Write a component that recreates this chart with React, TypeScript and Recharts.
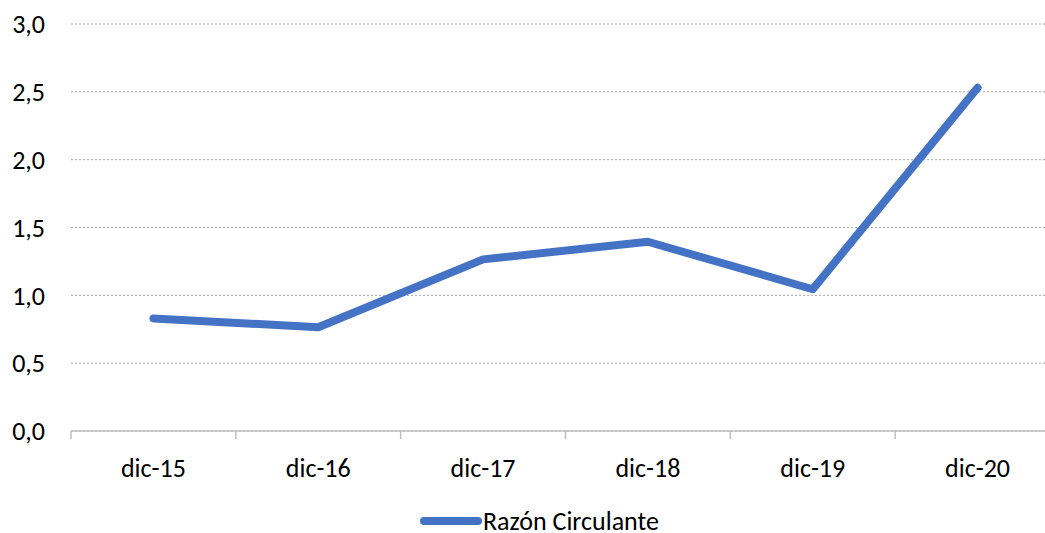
import React from 'react';
import { LineChart, Line, XAxis, YAxis, CartesianGrid, Legend } from 'recharts';

const categories = ['dic-15', 'dic-16', 'dic-17', 'dic-18', 'dic-19', 'dic-20'];
const razonCirculante = [0.83, 0.765, 1.265, 1.395, 1.045, 2.53];
const yTicks = [0, 0.5, 1, 1.5, 2, 2.5, 3];

// position index for each category, so the line sits in the middle of each band
const data = categories.map((month, i) => ({ idx: i, month, razon: razonCirculante[i] }));
const labelTicks = categories.map((_, i) => i);
const boundaryTicks = [-0.5, ...categories.map((_, i) => i + 0.5)];

const FONT = 'Carlito, Lato, sans-serif';
const BLUE = '#4472c4';

const LegendContent = () => (
    <div style={{ display: 'flex', alignItems: 'center', fontFamily: FONT, fontSize: 26, color: '#000', lineHeight: '34px', whiteSpace: 'nowrap' }}>
        <svg width={64} height={12}>
            <line x1={5} y1={6} x2={59} y2={6} stroke={BLUE} strokeWidth={8} strokeLinecap="round" />
        </svg>
        <span>Razón Circulante</span>
    </div>
);

const App: React.FC = () => {
    return (
        <div style={{ position: 'fixed', left: 0, top: 0, width: 1045, height: 533, overflow: 'hidden', background: '#fff' }}>
            <LineChart
                width={1075}
                height={533}
                data={data}
                margin={{ top: 24, right: 15, left: 0, bottom: 0 }}
            >
                <CartesianGrid xAxisId="a_marks" vertical={false} stroke="#a6a6a6" strokeDasharray="2 2" />
                {/* tick marks between categories */}
                <XAxis
                    xAxisId="a_marks"
                    dataKey="idx"
                    type="number"
                    domain={[-0.5, 5.5]}
                    ticks={boundaryTicks}
                    interval={0}
                    height={1}
                    tickFormatter={() => ''}
                    axisLine={{ stroke: '#bfbfbf', strokeWidth: 1.5 }}
                    tickLine={{ stroke: '#bfbfbf', strokeWidth: 1.5 }}
                    tickSize={8}
                    tickMargin={0}
                />
                <XAxis
                    xAxisId="b_labels"
                    dataKey="idx"
                    type="number"
                    domain={[-0.5, 5.5]}
                    ticks={labelTicks}
                    height={67}
                    interval={0}
                    tickFormatter={(v: number) => categories[v]}
                    tick={{ fill: '#000', fontSize: 26, fontFamily: FONT }}
                    axisLine={false}
                    tickLine={false}
                    tickMargin={21}
                />
                <YAxis
                    width={71}
                    domain={[0, 3]}
                    ticks={yTicks}
                    tickFormatter={(v: number) => v.toFixed(1).replace('.', ',')}
                    tick={{ fill: '#000', fontSize: 26, fontFamily: FONT }}
                    axisLine={false}
                    tickLine={false}
                    tickSize={0}
                    tickMargin={26}
                />
                <Legend
                    verticalAlign="bottom"
                    content={<LegendContent />}
                    wrapperStyle={{ left: 419, bottom: -5, width: 280, height: 34, overflow: 'visible' }}
                />
                <Line
                    xAxisId="a_marks"
                    type="linear"
                    dataKey="razon"
                    stroke={BLUE}
                    strokeWidth={8}
                    strokeLinecap="round"
                    strokeLinejoin="round"
                    dot={false}
                    activeDot={false}
                    isAnimationActive={false}
                    name="Razón Circulante"
                />
            </LineChart>
        </div>
    );
};

export default App;
